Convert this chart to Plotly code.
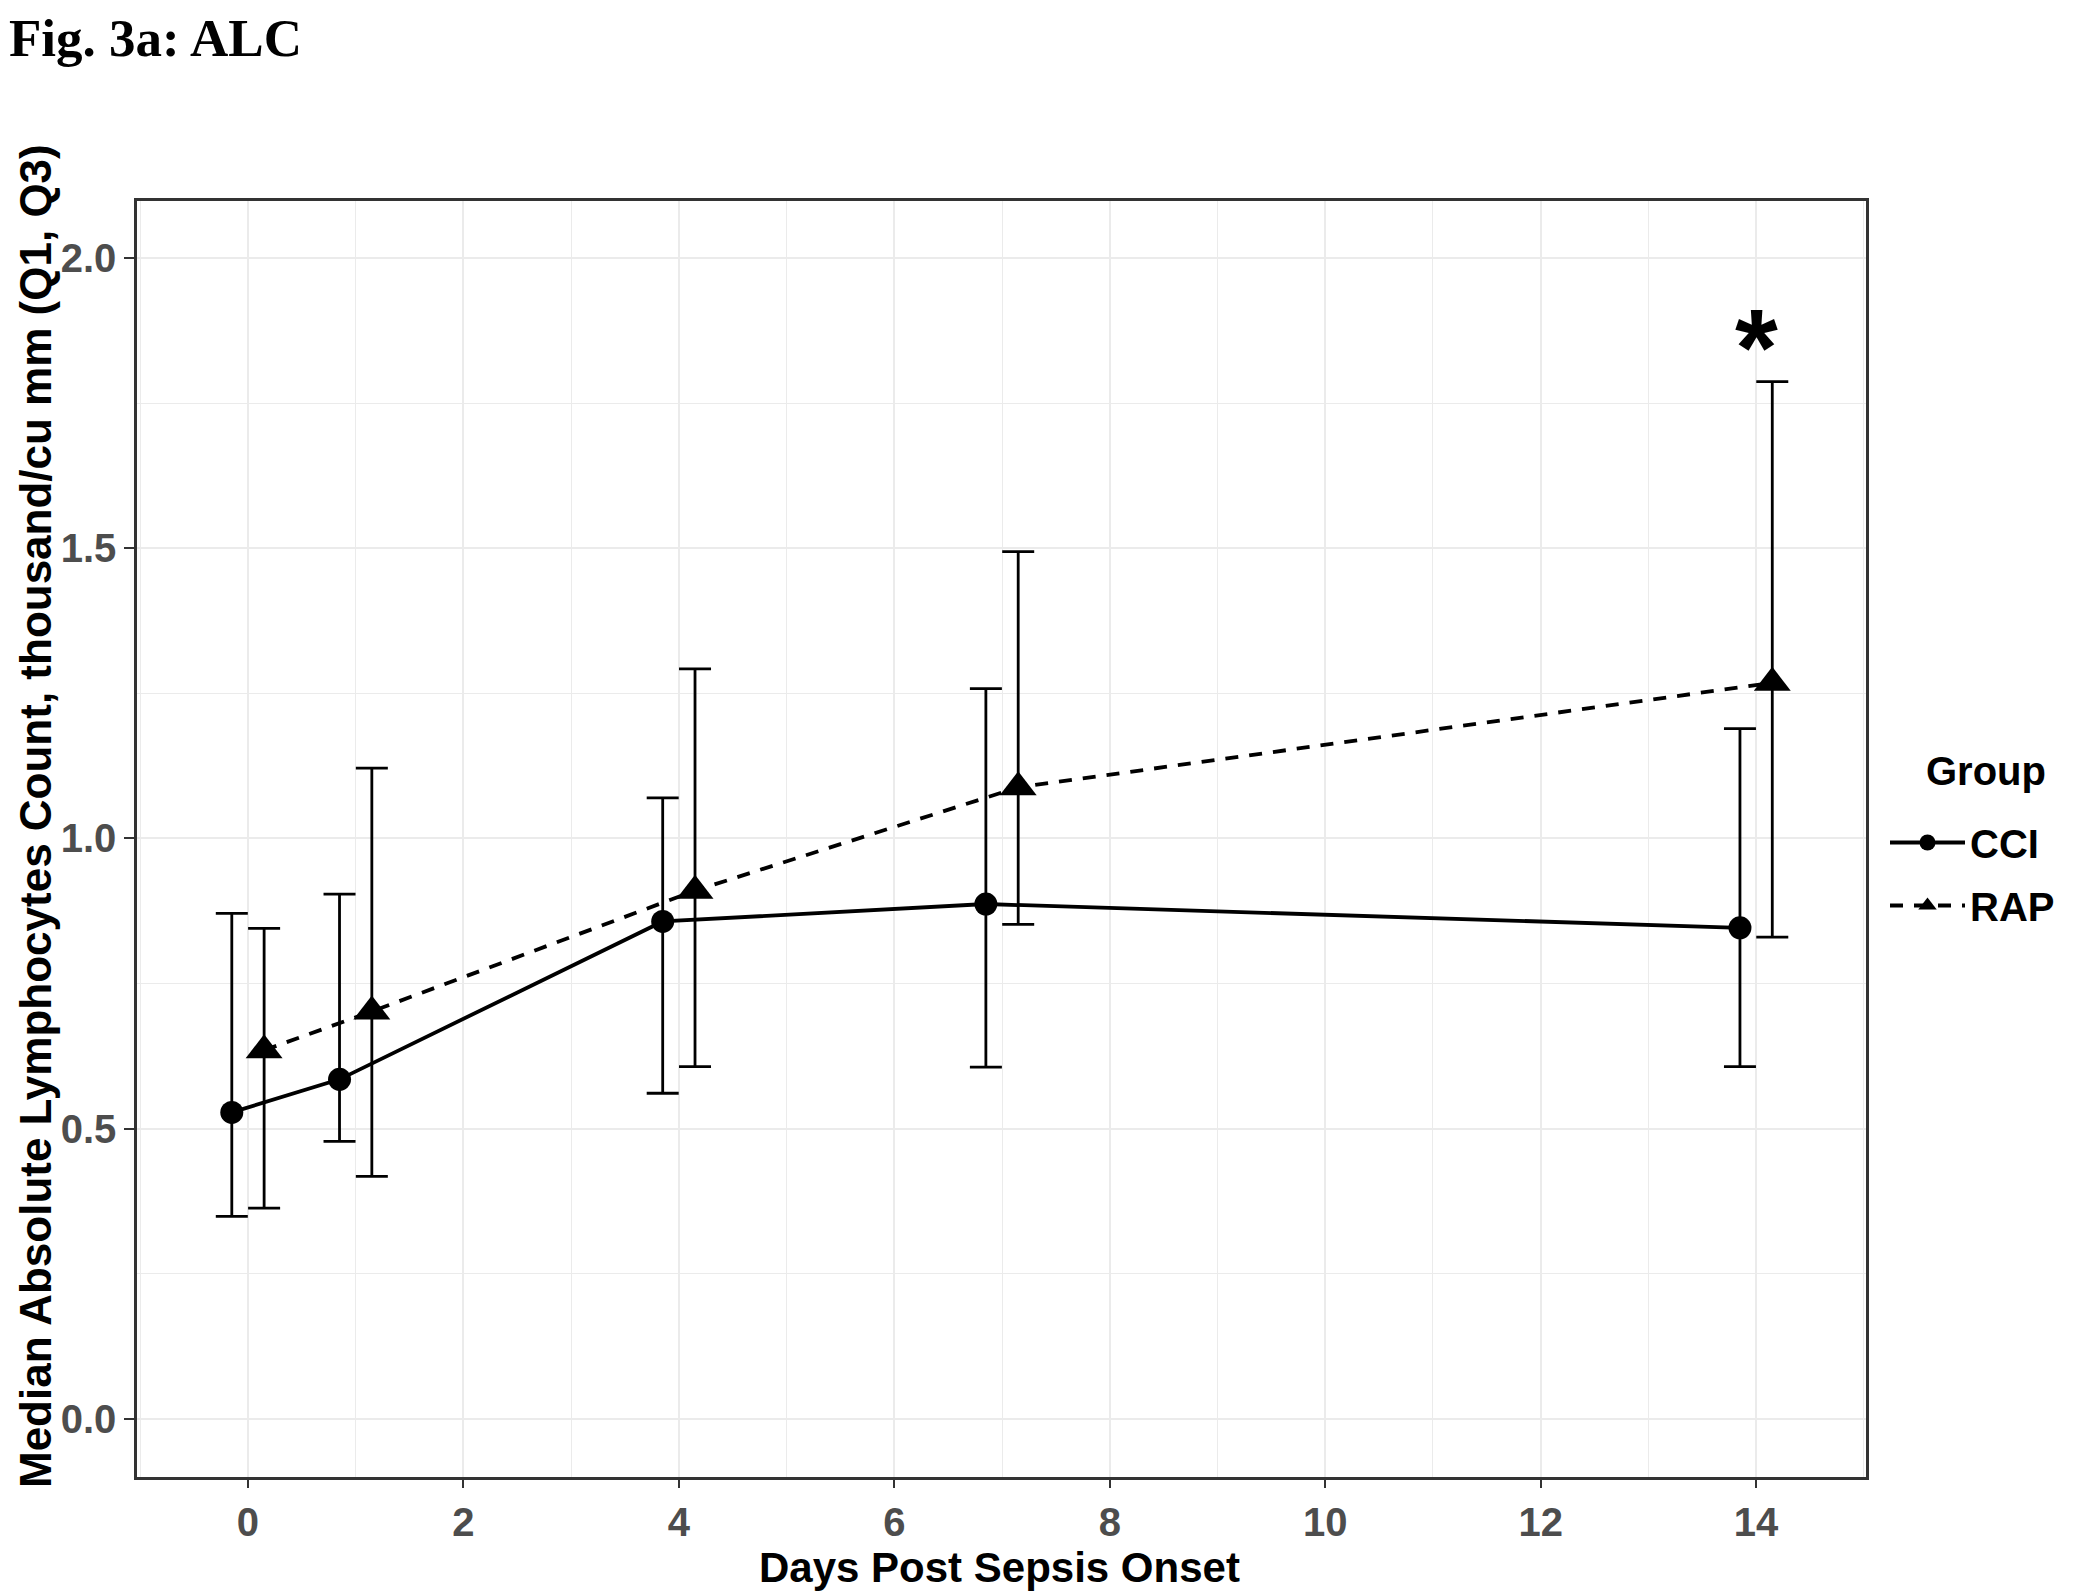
import plotly.graph_objects as go

# ---- data ----
days = [0, 1, 4, 7, 14]
groups = ["CCI", "RAP"]
cci_median = [0.528, 0.585, 0.857, 0.887, 0.846]
cci_q1 = [0.349, 0.478, 0.561, 0.606, 0.607]
cci_q3 = [0.871, 0.904, 1.070, 1.258, 1.189]
rap_median = [0.635, 0.702, 0.910, 1.088, 1.268]
rap_q1 = [0.363, 0.418, 0.607, 0.852, 0.830]
rap_q3 = [0.845, 1.121, 1.292, 1.494, 1.787]
x_ticks = [0, 2, 4, 6, 8, 10, 12, 14]
y_ticks = [0.0, 0.5, 1.0, 1.5, 2.0]
star_day = 14
star_value = 1.87

DODGE = 0.15
OFF = 8  # browser body margin
W, H = 2100, 1592
L, R, T, B = 137 - OFF, 234 + OFF, 201 - OFF, 115 + OFF
pw, ph = W - L - R, H - T - B
bottom_fig = T + ph


def px_x(page_x):
    return (page_x - OFF - L) / pw


def px_y(page_y):
    return (bottom_fig - (page_y - OFF)) / ph


FONT = "Liberation Sans, Arial, sans-serif"

fig = go.Figure()

series = [
    ("CCI", -DODGE, cci_median, cci_q1, cci_q3, "solid", "circle", 23),
    ("RAP", DODGE, rap_median, rap_q1, rap_q3, "13px,11px", "triangle-up", 32),
]
for name, off, med, q1, q3, dash, sym, msize in series:
    xs = [d + off for d in days]
    fig.add_trace(go.Scatter(
        x=xs, y=med, name=name, mode="lines+markers", legendgroup=name,
        line=dict(color="black", width=3.8, dash=dash),
        marker=dict(symbol=sym, size=msize, color="black"),
        error_y=dict(type="data", symmetric=False,
                     array=[h - m for h, m in zip(q3, med)],
                     arrayminus=[m - l for m, l in zip(med, q1)],
                     color="black", thickness=2.8, width=16),
    ))

grid = "#EBEBEB"
axis_common = dict(
    showline=True, linecolor="#333333", linewidth=2.5, mirror=True,
    ticks="outside", tickwidth=2.2, tickcolor="#333333",
    gridcolor=grid, gridwidth=2.4, zeroline=False,
    tickfont=dict(family=FONT, size=40, color="#4D4D4D", weight="bold"),
)
fig.update_xaxes(range=[-1.03, 15.02], tickvals=x_ticks, ticklen=8,
                 minor=dict(dtick=1, tick0=1, showgrid=True, gridcolor=grid, gridwidth=1.3, ticks=""),
                 **axis_common)
fig.update_yaxes(range=[-0.1, 2.098], tickvals=y_ticks, tickformat=".1f", ticklen=10,
                 minor=dict(dtick=0.25, tick0=0.25, showgrid=True, gridcolor=grid, gridwidth=1.3, ticks=""),
                 **axis_common)

annotations = [
    dict(text="<b>Fig. 3a: ALC</b>", xref="paper", yref="paper",
         x=-L / pw, y=1 + T / ph, xanchor="left", yanchor="top", showarrow=False, borderpad=0,
         font=dict(family="Liberation Serif, Times New Roman, serif", size=53, color="black")),
    dict(text="Days Post Sepsis Onset", xref="paper", yref="paper",
         x=px_x(999), y=-(H - 8 - bottom_fig) / ph, xanchor="center", yanchor="bottom", showarrow=False,
         borderpad=0,
         font=dict(family=FONT, size=42, color="black", weight="bold")),
    dict(text="Median Absolute Lymphocytes Count, thousand/cu mm (Q1, Q3)", xref="paper", yref="paper",
         x=px_x(35), y=px_y(816), xanchor="center", yanchor="middle", textangle=-90, showarrow=False,
         font=dict(family=FONT, size=44, color="black", weight="bold")),
    dict(text="Group", xref="paper", yref="paper",
         x=px_x(1924), y=px_y(771), xanchor="left", yanchor="middle", showarrow=False,
         font=dict(family=FONT, size=40, color="black", weight="bold")),
    dict(text="*", x=star_day, y=star_value, xref="x", yref="y", xanchor="center", yanchor="middle",
         showarrow=False, yshift=-13,
         font=dict(family=FONT, size=110, color="black", weight="bold")),
]

fig.update_layout(
    width=W, height=H, margin=dict(l=L, r=R, t=T, b=B, autoexpand=False),
    paper_bgcolor="white", plot_bgcolor="white",
    showlegend=True,
    legend=dict(font=dict(family=FONT, size=40, color="black", weight="bold"),
                x=px_x(1885), y=px_y(810), xanchor="left", yanchor="top", itemwidth=75,
                tracegroupgap=8, bgcolor="rgba(0,0,0,0)"),
    annotations=annotations,
)

fig.write_html("out.html")
